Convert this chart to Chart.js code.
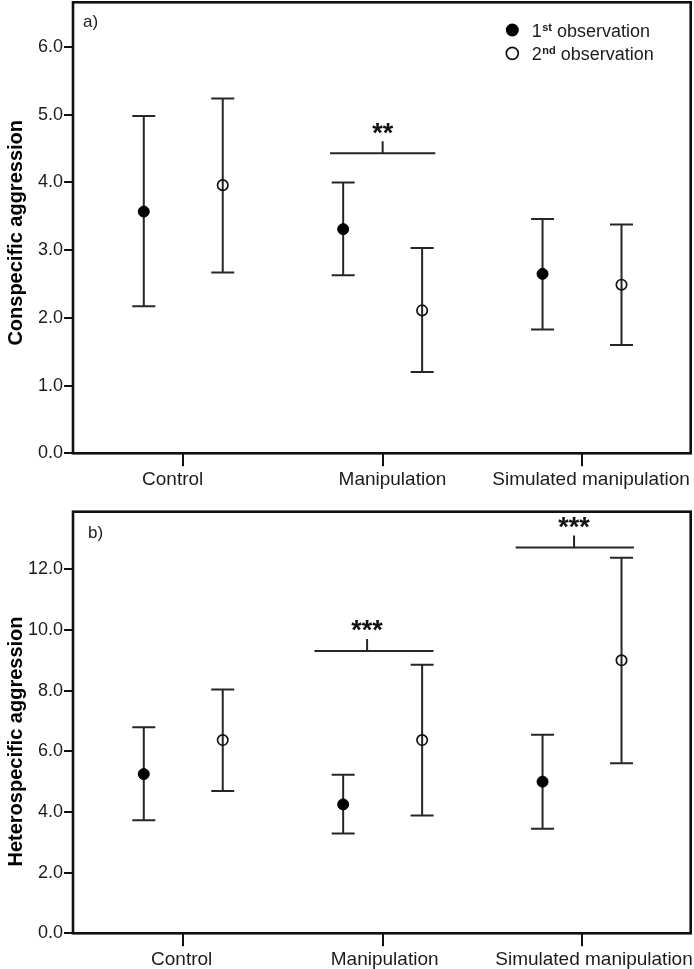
<!DOCTYPE html>
<html>
<head>
<meta charset="utf-8">
<script src="https://cdn.jsdelivr.net/npm/chart.js@4/dist/chart.umd.min.js"></script>
<style>
html,body{margin:0;padding:0;background:#fff;}
#p1{position:absolute;left:0;top:0;width:694px;height:490px;}
#p2{position:absolute;left:0;top:490px;width:694px;height:479px;}
canvas{display:block;}
</style>
</head>
<body>
<div id="p1"><canvas id="c1" width="694" height="490"></canvas></div>
<div id="p2"><canvas id="c2" width="694" height="479"></canvas></div>
<script>
// ---- data ----
const categories = ['Control', 'Manipulation', 'Simulated manipulation'];
const seriesNames = [['1', 'st', ' observation'], ['2', 'nd', ' observation']];

const conspecificFirstMean  = [3.57, 3.31, 2.65];
const conspecificFirstLow   = [2.17, 2.63, 1.83];
const conspecificFirstHigh  = [4.98, 4.00, 3.46];
const conspecificSecondMean = [3.96, 2.11, 2.49];
const conspecificSecondLow  = [2.67, 1.20, 1.60];
const conspecificSecondHigh = [5.24, 3.03, 3.38];
const conspecificTicks = [0, 1, 2, 3, 4, 5, 6];
const conspecificSigCategory = [1];
const conspecificSigLevel = [4.43];
const conspecificSigLabel = ['**'];

const heterospecificFirstMean  = [5.25, 4.25, 5.00];
const heterospecificFirstLow   = [3.73, 3.29, 3.45];
const heterospecificFirstHigh  = [6.79, 5.23, 6.55];
const heterospecificSecondMean = [6.37, 6.37, 9.00];
const heterospecificSecondLow  = [4.69, 3.88, 5.61];
const heterospecificSecondHigh = [8.04, 8.85, 12.38];
const heterospecificTicks = [0, 2, 4, 6, 8, 10, 12];
const heterospecificSigCategory = [1, 2];
const heterospecificSigLevel = [9.31, 12.72];
const heterospecificSigLabel = ['***', '***'];

// ---- style ----
const FONT = '"Liberation Sans", Arial, Helvetica, sans-serif';
const INK = '#1c1c1c';
const OFFSET = 0.198;      // horizontal offset of the two observations
const CAP = 11.5;          // half width of error-bar caps (px)

function pts(means, side) {
  return means.map((m, i) => ({ x: i + 1 + side * OFFSET, y: m }));
}

const framePlugin = {
  id: 'frame',
  beforeDatasetsDraw(chart) {
    const ctx = chart.ctx, xs = chart.scales.x, ys = chart.scales.y;
    ctx.save();
    ctx.strokeStyle = '#262626';
    ctx.lineWidth = 2;
    chart.data.datasets.forEach(ds => {
      ds.data.forEach((p, i) => {
        const x = xs.getPixelForValue(p.x);
        const yl = ys.getPixelForValue(ds.errLow[i]);
        const yh = ys.getPixelForValue(ds.errHigh[i]);
        ctx.beginPath();
        ctx.moveTo(x, yl); ctx.lineTo(x, yh);
        ctx.moveTo(x - CAP, yl); ctx.lineTo(x + CAP, yl);
        ctx.moveTo(x - CAP, yh); ctx.lineTo(x + CAP, yh);
        ctx.stroke();
      });
    });
    ctx.restore();
  },
  afterDraw(chart) {
    const ctx = chart.ctx, a = chart.chartArea, xs = chart.scales.x, ys = chart.scales.y;
    const o = chart.options.plugins.frame;
    ctx.save();
    // category tick marks
    ctx.strokeStyle = '#111';
    ctx.lineWidth = 2;
    categories.forEach((c, i) => {
      const x = Math.round(xs.getPixelForValue(i + 1));
      ctx.beginPath();
      ctx.moveTo(x, a.bottom); ctx.lineTo(x, a.bottom + 13);
      ctx.stroke();
    });
    // box
    ctx.lineWidth = 2.6;
    ctx.strokeRect(a.left, a.top, a.right - a.left, a.bottom - a.top);
    // panel letter
    ctx.fillStyle = INK;
    ctx.font = '17px ' + FONT;
    ctx.textBaseline = 'middle';
    ctx.textAlign = 'left';
    ctx.fillText(o.letter, a.left + o.letterDx, a.top + o.letterDy);
    // significance brackets
    ctx.strokeStyle = '#262626';
    ctx.lineWidth = 2;
    o.sigCategory.forEach((c, k) => {
      const sp = o.sigSpan[k];
      const y = ys.getPixelForValue(o.sigLevel[k]);
      const x0 = xs.getPixelForValue(c + 1 + sp[0]);
      const x1 = xs.getPixelForValue(c + 1 + sp[1]);
      const xt = xs.getPixelForValue(c + 1 + sp[2]);
      ctx.beginPath();
      ctx.moveTo(x0, y); ctx.lineTo(x1, y);
      ctx.moveTo(xt, y); ctx.lineTo(xt, y - 12);
      ctx.stroke();
      ctx.font = 'bold 27px ' + FONT;
      ctx.textAlign = 'center';
      ctx.textBaseline = 'alphabetic';
      const m = ctx.measureText(o.sigLabel[k]);
      const cy = y - 25;
      const base = cy + (m.actualBoundingBoxAscent - m.actualBoundingBoxDescent) / 2;
      ctx.fillStyle = '#111';
      ctx.fillText(o.sigLabel[k], xt, base);
    });
    // legend
    if (o.legend) {
      const lg = o.legend;
      seriesNames.forEach((nm, i) => {
        const cy = lg.y + i * lg.dy;
        if (i === 0) {
          ctx.beginPath(); ctx.arc(lg.x, cy, 6.5, 0, Math.PI * 2);
          ctx.fillStyle = '#000'; ctx.fill();
        } else {
          ctx.strokeStyle = '#111'; ctx.lineWidth = 1.7;
          ctx.beginPath(); ctx.arc(lg.x, cy, 6, 0, Math.PI * 2); ctx.stroke();
        }
        ctx.fillStyle = INK;
        ctx.textAlign = 'left';
        ctx.textBaseline = 'alphabetic';
        let tx = lg.tx;
        const base = cy + 6.5;
        ctx.font = '18px ' + FONT;
        ctx.fillText(nm[0], tx, base);
        tx += ctx.measureText(nm[0]).width + 0.5;
        ctx.font = 'bold 11px ' + FONT;
        ctx.fillText(nm[1], tx, base - 6);
        tx += ctx.measureText(nm[1]).width;
        ctx.font = '18px ' + FONT;
        ctx.fillText(nm[2], tx, base);
      });
    }
    ctx.restore();
  }
};

function makeChart(id, cfg) {
  return new Chart(document.getElementById(id), {
    type: 'scatter',
    data: {
      datasets: [
        {
          label: '1st observation',
          data: pts(cfg.firstMean, -1),
          errLow: cfg.firstLow, errHigh: cfg.firstHigh,
          pointRadius: 5.5, pointBackgroundColor: '#000', pointBorderColor: '#000', pointBorderWidth: 1,
          showLine: false
        },
        {
          label: '2nd observation',
          data: pts(cfg.secondMean, 1),
          errLow: cfg.secondLow, errHigh: cfg.secondHigh,
          pointRadius: 5.2, pointBackgroundColor: 'rgba(0,0,0,0)', pointBorderColor: '#111', pointBorderWidth: 1.7,
          showLine: false
        }
      ]
    },
    options: {
      responsive: false,
      animation: false,
      devicePixelRatio: 1,
      layout: { autoPadding: false, padding: { top: cfg.areaTop, right: 3.3, left: 0, bottom: 0 } },
      plugins: {
        legend: { display: false },
        tooltip: { enabled: false },
        frame: {
          letter: cfg.letter, letterDx: cfg.letterDx, letterDy: cfg.letterDy,
          sigCategory: cfg.sigCategory, sigLevel: cfg.sigLevel, sigLabel: cfg.sigLabel, sigSpan: cfg.sigSpan,
          legend: cfg.legend
        }
      },
      scales: {
        x: {
          type: 'linear',
          min: 0.447, max: 3.545,
          // label anchors: category position plus a small per-label shift (as in the original layout)
          afterBuildTicks: s => { s.ticks = categories.map((c, i) => ({ value: i + 1 + cfg.labelShift[i] })); },
          afterFit: s => { s.height = cfg.xAxisHeight; s.paddingLeft = 0; s.paddingRight = 0; },
          border: { display: false },
          grid: { display: true, drawOnChartArea: false, drawTicks: false },
          ticks: {
            autoSkip: false, maxRotation: 0, padding: 15, color: INK,
            font: { family: FONT, size: 19 },
            callback: (v, idx) => categories[idx]
          }
        },
        y: {
          min: 0, max: cfg.yMax,
          afterBuildTicks: s => { s.ticks = cfg.ticks.map(v => ({ value: v })); },
          afterFit: s => {
            s.width = 73; s.paddingTop = 0; s.paddingBottom = 0;
            if (!s._titleShifted) {
              const orig = Object.getPrototypeOf(s).drawTitle;
              s.drawTitle = function () {
                this.ctx.save();
                this.ctx.translate(0, cfg.titleShift);
                orig.call(this);
                this.ctx.restore();
              };
              s._titleShifted = true;
            }
          },
          border: { display: false },
          grid: { display: true, drawOnChartArea: false, drawTicks: true, tickLength: 9, color: '#111', lineWidth: 2 },
          ticks: {
            padding: 1, color: INK,
            font: { family: FONT, size: 18 },
            callback: v => Number(v).toFixed(1)
          },
          title: {
            display: true, text: cfg.yTitle, color: '#000',
            font: { family: FONT, size: 20, weight: 'bold' },
            padding: { top: 4, bottom: 4 }
          }
        }
      }
    },
    plugins: [framePlugin]
  });
}

makeChart('c1', {
  firstMean: conspecificFirstMean, firstLow: conspecificFirstLow, firstHigh: conspecificFirstHigh,
  secondMean: conspecificSecondMean, secondLow: conspecificSecondLow, secondHigh: conspecificSecondHigh,
  ticks: conspecificTicks, yMax: 6.66, yTitle: 'Conspecific aggression', titleShift: 5,
  areaTop: 2.3, xAxisHeight: 490 - 453.3,
  labelShift: [-0.053, 0.049, 0.045],
  letter: 'a)', letterDx: 10, letterDy: 20,
  sigCategory: conspecificSigCategory, sigLevel: conspecificSigLevel, sigLabel: conspecificSigLabel,
  sigSpan: [[-0.264, 0.264, 0]],
  legend: { x: 512.3, y: 30, dy: 23.3, tx: 531.7 }
});

makeChart('c2', {
  firstMean: heterospecificFirstMean, firstLow: heterospecificFirstLow, firstHigh: heterospecificFirstHigh,
  secondMean: heterospecificSecondMean, secondLow: heterospecificSecondLow, secondHigh: heterospecificSecondHigh,
  ticks: heterospecificTicks, yMax: 13.9, yTitle: 'Heterospecific aggression', titleShift: 19,
  areaTop: 21.7, xAxisHeight: 479 - 443.3,
  labelShift: [-0.008, 0.01, 0.06],
  letter: 'b)', letterDx: 15, letterDy: 21.5,
  sigCategory: heterospecificSigCategory, sigLevel: heterospecificSigLevel, sigLabel: heterospecificSigLabel,
  sigSpan: [[-0.342, 0.255, -0.078], [-0.333, 0.26, -0.04]],
  legend: null
});
</script>
</body>
</html>
